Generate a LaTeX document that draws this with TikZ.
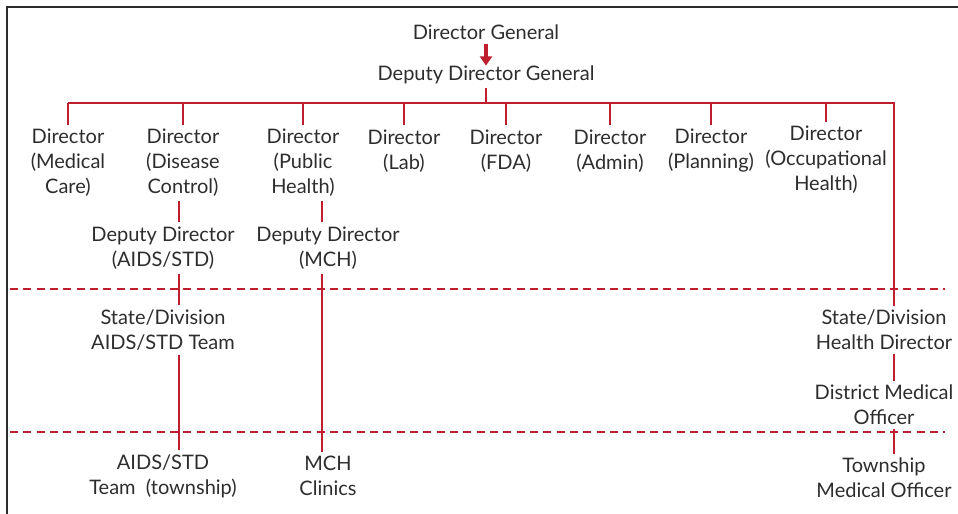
\documentclass[tikz,border=0pt]{standalone}
\usepackage{fontspec}
\setmainfont{Lato}
\usetikzlibrary{arrows.meta}
\definecolor{orgred}{RGB}{190,30,45}
\definecolor{ink}{RGB}{45,45,45}

\begin{document}
\begin{tikzpicture}[x=0.75pt,y=-0.75pt,
    font=\fontsize{15}{18.75}\selectfont, text=ink,
    post/.style={align=center,inner xsep=0pt,inner ysep=3pt},
    link/.style={orgred,line width=1.5pt},
    tier/.style={orgred,line width=1.5pt,dash pattern=on 6pt off 4pt},
    arr/.style={-{Triangle[length=7pt,width=9pt]},orgred,line width=2.4pt}]
    \useasboundingbox (0,0) rectangle (958,514);
    \draw[ink,line width=1.1pt] (7,514) -- (7,7) -- (958,7);
    % headquarters
    \node[post](dg) at (486,32){Director General};
    \node[post](ddg) at (486,75){Deputy Director General};
    \node[post](dmc) at (68,163){Director\\(Medical\\Care)};
    \node[post](ddc) at (183,163){Director\\(Disease\\Control)};
    \node[post](dph) at (303,163){Director\\(Public\\Health)};
    \node[post](dlab) at (404,151){Director\\(Lab)};
    \node[post](dfda) at (506,151){Director\\(FDA)};
    \node[post](dadm) at (610,151){Director\\(Admin)};
    \node[post](dpln) at (711,151){Director\\(Planning)};
    \node[post](doh) at (826,160){Director\\(Occupational\\Health)};
    \node[post](ddaids) at (163,248){Deputy Director\\(AIDS/STD)};
    \node[post](ddmch) at (328,248){Deputy Director\\(MCH)};
    % state / division
    \node[post](sdaids) at (163,330){State/Division\\AIDS/STD Team};
    \node[post](sdhd) at (884,330){State/Division\\Health Director};
    \node[post](dmo) at (884,405){District Medical\\Officer};
    % township
    \node[post](twaids) at (163,476){AIDS/STD\\Team\ \ (township)};
    \node[post](mchc) at (328,476){MCH\\Clinics};
    \node[post](tmo) at (884,478){Township\\Medical Officer};
    \coordinate (busL) at (68,103);
    \coordinate (busR) at (894,103);
    \coordinate (colA) at (179,0);
    \coordinate (colB) at (322,0);
    \draw[tier] (10,289) -- (945,289);
    \draw[tier] (10,432) -- (945,432);
    \draw[arr,shorten >=-3pt] (dg) -- (ddg);
    \draw[link] (ddg.south) -- (ddg.south |- busL);
    \draw[link] (busL) -- (busR) -- (busR |- sdhd.north);
    \draw[link] (dmc.north |- busL) -- (dmc.north);
    \draw[link] (ddc.north |- busL) -- (ddc.north);
    \draw[link] (dph.north |- busL) -- (dph.north);
    \draw[link] (dlab.north |- busL) -- (dlab.north);
    \draw[link] (dfda.north |- busL) -- (dfda.north);
    \draw[link] (dadm.north |- busL) -- (dadm.north);
    \draw[link] (dpln.north |- busL) -- (dpln.north);
    \draw[link] (doh.north |- busL) -- (doh.north);
    \draw[link] (ddc.south -| colA) -- (ddaids.north -| colA);
    \draw[link] (ddaids.south -| colA) -- (sdaids.north -| colA);
    \draw[link] (sdaids.south -| colA) -- (twaids.north -| colA);
    \draw[link] (dph.south -| colB) -- (ddmch.north -| colB);
    \draw[link] (ddmch.south -| colB) -- (mchc.north -| colB);
    \draw[link] (sdhd.south -| busR) -- (dmo.north -| busR);
    \draw[link] (dmo.south -| busR) -- (tmo.north -| busR);
  \end{tikzpicture}
\end{document}
